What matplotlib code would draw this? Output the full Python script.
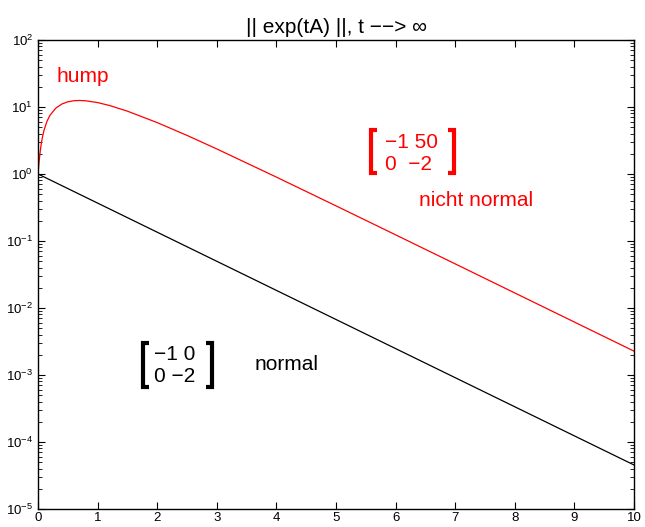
import matplotlib
matplotlib.use("Agg")
import matplotlib.pyplot as plt
from matplotlib.ticker import LogLocator, FixedLocator, NullFormatter

plt.rcParams['font.family'] = ['Liberation Sans', 'DejaVu Sans']

# data
t_normal = [0, 10]
norm_normal = [1.0, 4.54e-5]

t_hump = [0, 0.01, 0.02, 0.035, 0.05, 0.07, 0.1, 0.15, 0.2, 0.3, 0.4, 0.5, 0.6, 0.7, 0.8,
          1.0, 1.2, 1.5, 2, 2.5, 3, 4, 5, 6, 7, 8, 9, 10]
norm_hump = [1.0, 1.26, 1.57, 2.09, 2.65, 3.39, 4.47, 6.10, 7.50, 9.64, 11.08, 11.95, 12.40,
             12.51, 12.38, 11.64, 10.53, 8.67, 5.85, 3.768, 2.366, 0.899, 0.3346, 0.1236,
             0.04556, 0.01677, 0.00617, 0.00227]

xticks = list(range(0, 11))
ylim = (1e-5, 1e2)

fig = plt.figure(figsize=(6.45, 5.27), dpi=100)
ax = fig.add_axes([38/645, 1-509/527, 596/645, 469/527])

ax.semilogy(t_normal, norm_normal, color='black', lw=0.9)
ax.semilogy(t_hump, norm_hump, color='red', lw=0.9)

ax.set_xlim(0, 10)
ax.set_ylim(*ylim)
ax.xaxis.set_major_locator(FixedLocator(xticks))
ax.yaxis.set_major_locator(LogLocator(base=10, numticks=20))
ax.yaxis.set_minor_locator(LogLocator(base=10, subs=range(2, 10), numticks=20))
ax.yaxis.set_minor_formatter(NullFormatter())
ax.tick_params(which='both', direction='in', top=True, right=True, labelsize=9.5)
ax.tick_params(axis='x', pad=2)
ax.tick_params(which='major', length=5, width=0.8)
ax.tick_params(which='minor', length=3, width=0.6)
for s in ax.spines.values():
    s.set_linewidth(1.0)

ax.set_title('|| exp(tA) ||, t \u2212\u2212> \u221e', fontsize=15, pad=5)

def fx(px):
    return (px - 38) / 596
def fy(py):
    return (509 - py) / 469

def bracket(px, ptop, pbot, side, color):
    serif = 6 if side == 'left' else -6
    xs = [fx(px + serif), fx(px), fx(px), fx(px + serif)]
    ys = [fy(ptop), fy(ptop), fy(pbot), fy(pbot)]
    ax.plot(xs, ys, transform=ax.transAxes, color=color, lw=3, solid_capstyle='butt',
            solid_joinstyle='miter', clip_on=False)

fs = 15
# red annotations
ax.text(fx(57), fy(76), 'hump', color='red', fontsize=fs, va='center', ha='left', transform=ax.transAxes)
bracket(371, 130, 173, 'left', 'red')
bracket(454, 130, 173, 'right', 'red')
ax.text(fx(385), fy(143), '\u22121 50', color='red', fontsize=fs, va='center', ha='left', transform=ax.transAxes)
ax.text(fx(385), fy(165), '0  \u22122', color='red', fontsize=fs, va='center', ha='left', transform=ax.transAxes)
ax.text(fx(419), fy(201), 'nicht normal', color='red', fontsize=fs, va='center', ha='left', transform=ax.transAxes)

# black annotations
bracket(143, 343, 387, 'left', 'black')
bracket(212, 343, 387, 'right', 'black')
ax.text(fx(154), fy(355), '\u22121 0', color='black', fontsize=fs, va='center', ha='left', transform=ax.transAxes)
ax.text(fx(154), fy(377), '0 \u22122', color='black', fontsize=fs, va='center', ha='left', transform=ax.transAxes)
ax.text(fx(255), fy(365), 'normal', color='black', fontsize=fs, va='center', ha='left', transform=ax.transAxes)

fig.savefig('out.png', dpi=100)
